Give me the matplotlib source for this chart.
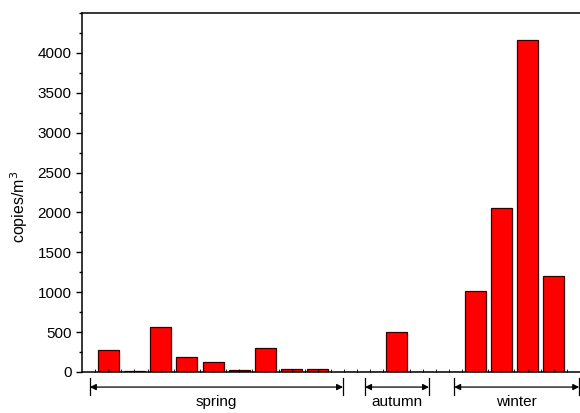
import numpy as np
import matplotlib.pyplot as plt
from matplotlib.ticker import MultipleLocator, FixedLocator
import matplotlib.transforms as mtransforms

plt.rcParams['font.family'] = ['Liberation Sans', 'DejaVu Sans']

# sample positions and copy numbers
positions = np.arange(1, 19)
copies = [281, 15, 560, 193, 125, 20, 300, 42, 38,
          0, 0, 505, 0, 0,
          1010, 2055, 4165, 1200]

seasons = ['spring', 'autumn', 'winter']
season_start = [0.3, 10.8, 14.2]
season_end = [9.96, 13.24, 18.97]

fig = plt.figure(figsize=(5.8, 4.13), dpi=100)
ax = fig.add_axes([0.1414, 0.0993, 0.8586, 0.8692])

ax.bar(positions, copies, width=0.8, color='#ff0000', edgecolor='#3a0000', linewidth=0.9)

ax.set_xlim(0, 19)
ax.set_ylim(0, 4500)
ax.yaxis.set_major_locator(FixedLocator(np.arange(0, 4001, 500)))
ax.yaxis.set_minor_locator(MultipleLocator(250))
ax.tick_params(axis='y', which='major', direction='out', length=4, width=1, labelsize=11)
ax.tick_params(axis='y', which='minor', direction='out', length=2.5, width=1)
ax.set_xticks(np.arange(0.5, 19, 0.5))
ax.set_xticklabels([])
ax.tick_params(axis='x', which='major', direction='in', length=2, width=0.6)
ax.spines['right'].set_visible(False)
for s in ['left', 'top', 'bottom']:
    ax.spines[s].set_linewidth(1.1)

ax.set_ylabel('copies/m$^3$', fontsize=11.5)
ax.yaxis.set_label_coords(-0.105, 0.46)

trans = mtransforms.blended_transform_factory(ax.transData, ax.transAxes)
for name, x0, x1 in zip(seasons, season_start, season_end):
    ax.annotate('', xy=(x0, -0.042), xytext=(x1, -0.042), xycoords=trans, textcoords=trans,
                arrowprops=dict(arrowstyle='<|-|>', color='black', lw=0.9,
                                shrinkA=0, shrinkB=0, mutation_scale=9))
    for xe in (x0, x1):
        ax.plot([xe, xe], [-0.017, -0.064], transform=trans, color='black', lw=0.9, clip_on=False)
    ax.text((x0 + x1) / 2, -0.084, name, transform=trans, ha='center', va='center', fontsize=11)

fig.savefig('out.png', dpi=100)
